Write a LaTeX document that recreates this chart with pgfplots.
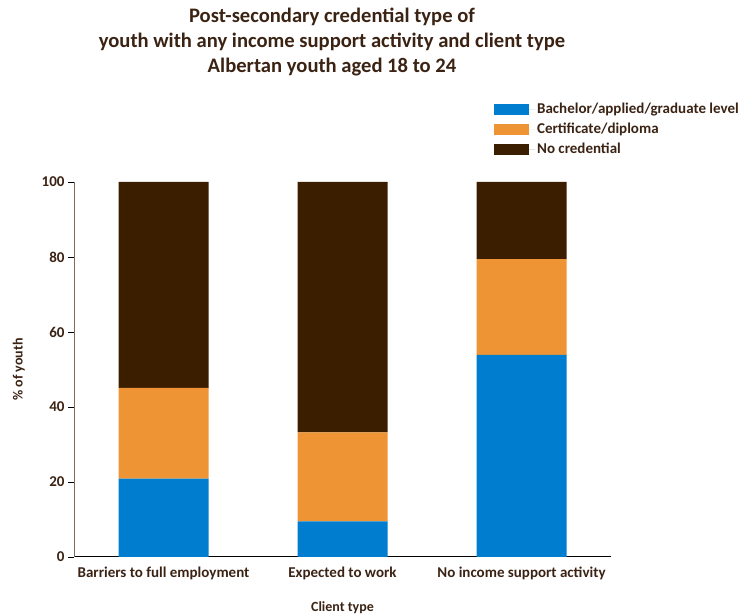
\documentclass[border=0pt]{standalone}
\usepackage{fontspec}
\setmainfont{Carlito}
\usepackage{pgfplots}
\pgfplotsset{compat=1.18}
\definecolor{txt}{HTML}{3B2314}
\definecolor{cblue}{HTML}{007DCF}
\definecolor{corange}{HTML}{EE9434}
\definecolor{cbrown}{HTML}{3B1E00}
\definecolor{yax}{HTML}{7F6A5A}
\begin{document}
\begin{tikzpicture}[x=1bp,y=1bp]
\useasboundingbox (0,0) rectangle (738,616);
\node[align=center, anchor=base, font=\fontsize{20.6bp}{25bp}\selectfont\bfseries, text=txt, inner sep=0pt]
  at (332,543) {Post-secondary credential type of\\youth with any income support activity and client type\\Albertan youth aged 18 to 24};
\begin{axis}[
  at={(74bp,59bp)}, anchor=south west,
  scale only axis, width=537bp, height=375bp,
  ybar stacked, bar width=90bp,
  xmin=-0.5, xmax=2.5, ymin=0, ymax=100,
  xtick={0,1,2},
  xticklabels={Barriers to full employment, Expected to work, No income support activity},
  ytick={0,20,40,60,80,100},
  axis x line*=bottom, axis y line*=left,
  x axis line style={black, -, line width=1pt},
  y axis line style={yax, -, line width=1pt},
  xtick style={draw=none},
  ytick style={black, line width=0.8pt},
  tick align=outside, major tick length=6bp,
  /pgf/number format/assume math mode=true,
  ticklabel style={font=\fontsize{15bp}{18bp}\selectfont\bfseries, text=txt},
  xlabel={Client type}, ylabel={\% of youth},
  label style={font=\fontsize{14bp}{17bp}\selectfont\bfseries, text=txt},
  xlabel style={yshift=-15bp},
  ylabel style={yshift=10bp},
  legend style={at={(0.782,1.216)}, anchor=north west, draw=none, fill=none,
    font=\fontsize{15bp}{18bp}\selectfont\bfseries, text=txt,
    row sep=4bp, inner sep=0pt, legend cell align=left},
  legend image code/.code={\fill[#1] (0bp,-5.5bp) rectangle (35bp,5.5bp); \path (0bp,0bp) -- (41bp,0bp);},
]
\addplot[fill=cblue, draw=none] coordinates {(0,20.9) (1,9.5) (2,53.9)};
\addplot[fill=corange, draw=none] coordinates {(0,24.2) (1,23.7) (2,25.5)};
\addplot[fill=cbrown, draw=none] coordinates {(0,54.9) (1,66.8) (2,20.6)};
\legend{Bachelor/applied/graduate level, Certificate/diploma, No credential}
\end{axis}
\end{tikzpicture}
\end{document}
